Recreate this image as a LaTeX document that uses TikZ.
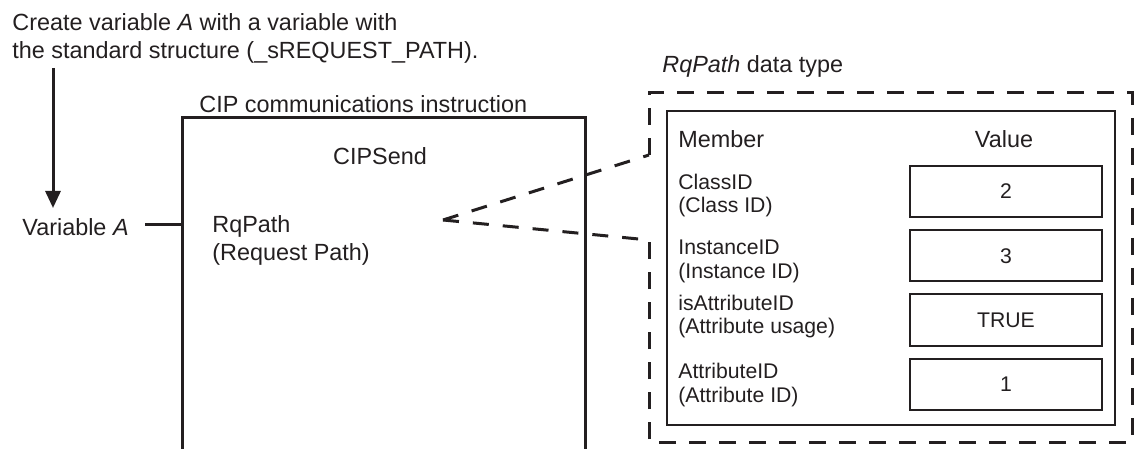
\documentclass[tikz,border=0pt]{standalone}
\usepackage{fontspec}
\setmainfont{Liberation Sans}
\usetikzlibrary{arrows.meta}
\definecolor{ink}{HTML}{231F20}
\begin{document}
\begin{tikzpicture}[x=0.5pt,y=-0.5pt,
  txt/.style={inner sep=0pt, text=ink, font=\fontsize{11.7}{14}\selectfont, align=left},
  mem/.style={inner sep=0pt, text=ink, font=\fontsize{10.6}{11.6}\selectfont, align=left, anchor=west},
  valbox/.style={draw=ink, line width=1pt, minimum width=96pt, minimum height=25.5pt, inner sep=0pt, text=ink, font=\fontsize{10.6}{12}\selectfont},
  boxline/.style={draw=ink, line width=1.5pt},
  dashline/.style={draw=ink, line width=1.5pt, dash pattern=on 8pt off 7pt},
  dashbox/.style={draw=ink, line width=1.5pt, dash pattern=on 8.5pt off 6.5pt, line join=miter}
]
\useasboundingbox (0,0) rectangle (1137,449);

% texts
\node[txt, anchor=west] (create) at (12,38) {Create variable \textit{A} with a variable with\\the standard structure (\_sREQUEST\_PATH).};
\node[txt, anchor=west] (cipti) at (199,104) {CIP communications instruction};
\node[txt] (cipsend) at (380,156) {CIPSend};
\node[txt, anchor=west] (varA) at (22,227) {Variable \textit{A}};
\node[txt, anchor=west] (rqpath) at (212,240) {RqPath\\(Request Path)};
\node[txt, anchor=west] (dtype) at (662,66) {\textit{RqPath} data type};

% instruction box (open at the bottom)
\coordinate (ibl) at (182,449);
\coordinate (ibtl) at (182,118);
\coordinate (ibtr) at (585,118);
\coordinate (ibr) at (585,449);
\coordinate (ib) at (182,225);
\draw[boxline, line join=miter] (ibl) -- (ibtl) -- (ibtr) -- (ibr);

% variable A connector
\draw[boxline, shorten >=8pt] (ib) -- (ib -| varA.east);

% arrow
\coordinate (arrS) at (53,68);
\coordinate (arrE) at (53,208);
\draw[draw=ink, line width=1.5pt, -{Triangle[width=7.5pt,length=8.5pt]}] (arrS) -- (arrE);

% dashed data-type box
\coordinate (dA) at (649,155);
\coordinate (dB) at (649,240);
\draw[dashbox] (dA) -- (649,93) -- (1132,93) -- (1132,442) -- (649,442) -- (dB);

% table
\node[draw=ink, line width=1.4pt, minimum width=224pt, minimum height=157pt, inner sep=0pt] (table) at (891,268) {};
\node[txt, anchor=west] (member) at (678,139) {Member};
\node[txt] (value) at (1004,139) {Value};

\node[mem] (m1) at (678,195.5) {ClassID\\(Class ID)};
\node[mem] (m2) at (678,261.5) {InstanceID\\(Instance ID)};
\node[mem] (m3) at (678,316.5) {isAttributeID\\(Attribute usage)};
\node[mem] (m4) at (678,385) {AttributeID\\(Attribute ID)};

\node[valbox] (v1) at (1006,191.5) {2};
\node[valbox] (v2) at (1006,256) {3};
\node[valbox] (v3) at (1006,320) {TRUE};
\node[valbox] (v4) at (1006,384) {1};

% dashed connectors
\coordinate (rq) at (443,220);
\draw[dashline] (rq) -- (dA);
\draw[dashline] (rq) -- (dB);
\end{tikzpicture}
\end{document}
